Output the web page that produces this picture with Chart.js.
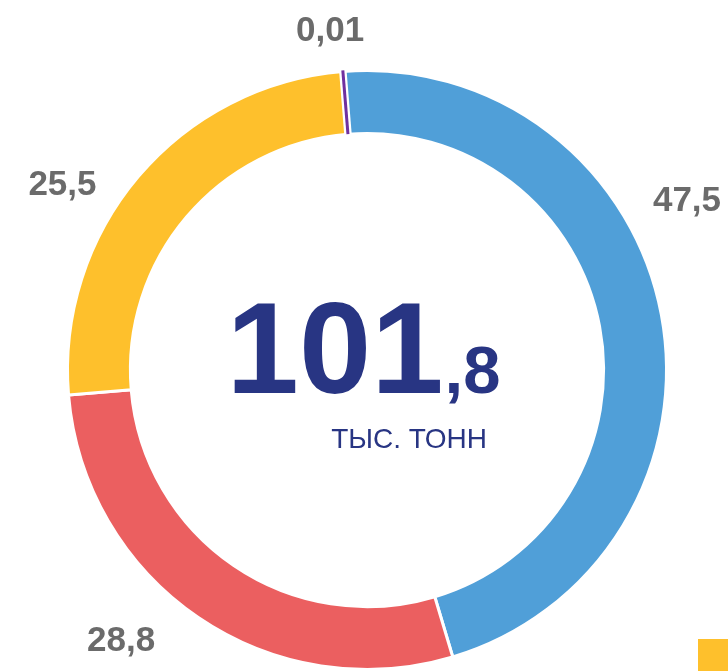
<!DOCTYPE html>
<html>
<head>
<meta charset="utf-8">
<script src="https://cdn.jsdelivr.net/npm/chart.js@4/dist/chart.umd.min.js"></script>
<style>
  html, body { margin: 0; padding: 0; background: #fff; }
  #wrap { width: 728px; height: 671px; position: relative; }
</style>
</head>
<body>
<div id="wrap"><canvas id="donut"></canvas></div>
<script>
const categories = ['Категория 1', 'Категория 2', 'Категория 3', 'Категория 4'];
const values = [47.5, 28.8, 25.5, 0.01];
const valueLabels = ['47,5', '28,8', '25,5', '0,01'];
const colors = ['#509FD8', '#EB5F60', '#FEC02C', '#7030A0'];
const totalMain = '101';
const totalFrac = ',8';
const totalUnit = 'ТЫС. ТОНН';

const FONT = '"Liberation Sans", Arial, sans-serif';

// label placement: angle (deg, clockwise from top) and distance as share of outer radius
const labelPos = [[62, 1.21], [222.3, 1.22], [301.3, 1.19], [353.8, 1.14]];

const extras = {
  id: 'extras',
  afterDatasetsDraw(chart) {
    const ctx = chart.ctx;
    const meta = chart.getDatasetMeta(0);
    const first = meta.data[0];
    const cx = first.x, cy = first.y, R = first.outerRadius;

    // thin purple slice, drawn wider so it stays visible
    const sliver = meta.data[3];
    const mid = (sliver.startAngle + sliver.endAngle) / 2;
    const p0 = [cx + Math.cos(mid) * sliver.innerRadius, cy + Math.sin(mid) * sliver.innerRadius];
    const p1 = [cx + Math.cos(mid) * (sliver.outerRadius + 1), cy + Math.sin(mid) * (sliver.outerRadius + 1)];
    ctx.save();
    ctx.lineCap = 'butt';
    ctx.strokeStyle = '#fff';
    ctx.lineWidth = 7.5;
    ctx.beginPath(); ctx.moveTo(p0[0], p0[1]); ctx.lineTo(p1[0], p1[1]); ctx.stroke();
    ctx.strokeStyle = colors[3];
    ctx.lineWidth = 3;
    ctx.beginPath(); ctx.moveTo(p0[0], p0[1]); ctx.lineTo(p1[0], p1[1]); ctx.stroke();

    // value labels
    ctx.fillStyle = '#6b6b6b';
    ctx.font = 'bold 35px ' + FONT;
    ctx.textAlign = 'center';
    ctx.textBaseline = 'middle';
    valueLabels.forEach((t, i) => {
      const a = labelPos[i][0] * Math.PI / 180;
      const d = labelPos[i][1] * R;
      ctx.fillText(t, cx + Math.sin(a) * d, cy - Math.cos(a) * d + 1);
    });

    // centre total
    ctx.fillStyle = '#283583';
    ctx.textBaseline = 'alphabetic';
    ctx.textAlign = 'left';
    ctx.font = 'bold 130px ' + FONT;
    const wMain = ctx.measureText(totalMain).width;
    ctx.font = 'bold 67px ' + FONT;
    const wFrac = ctx.measureText(totalFrac).width;
    const x0 = cx - (wMain + wFrac) / 2 - 4;
    ctx.font = 'bold 130px ' + FONT;
    ctx.fillText(totalMain, x0, cy + 23);
    ctx.font = 'bold 67px ' + FONT;
    ctx.fillText(totalFrac, x0 + wMain + 1, cy + 23);
    ctx.font = '28px ' + FONT;
    ctx.textAlign = 'center';
    ctx.fillText(totalUnit, cx + 42, cy + 78);

    // legend swatch peeking in at the corner
    ctx.fillStyle = colors[2];
    ctx.fillRect(chart.width - 30, chart.height - 32, 30, 32);
    ctx.restore();
  }
};

new Chart(document.getElementById('donut'), {
  type: 'doughnut',
  data: {
    labels: categories,
    datasets: [{
      data: values,
      backgroundColor: colors,
      borderColor: '#ffffff',
      borderWidth: 3
    }]
  },
  options: {
    responsive: true,
    maintainAspectRatio: false,
    animation: false,
    cutout: '79%',
    rotation: -4.6,
    layout: { padding: { top: 69, bottom: -5, left: 64, right: 58 } },
    plugins: {
      legend: { display: false },
      tooltip: { enabled: false }
    }
  },
  plugins: [extras]
});
</script>
</body>
</html>
